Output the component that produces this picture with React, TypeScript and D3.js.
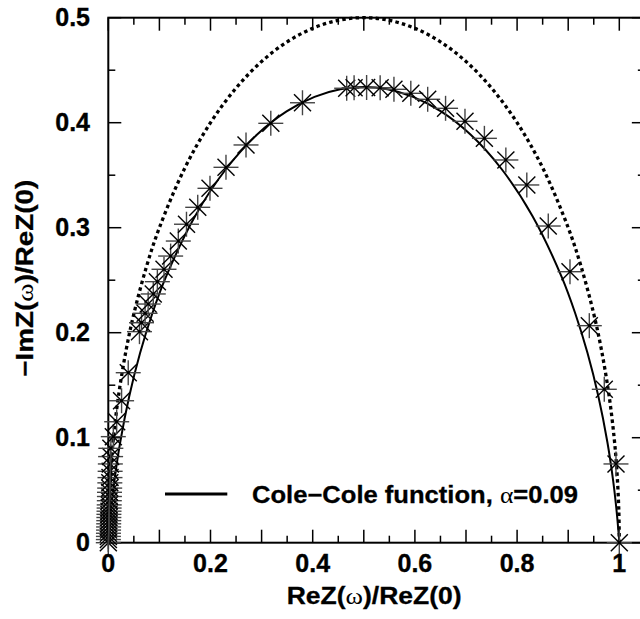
import React from "react";
import * as d3 from "d3";

const W = 640;
const H = 619;

// Ideal Debye semicircle (dotted curve): [ReZ, -ImZ]
const debyeX = [0, 0.001, 0.005, 0.01, 0.02, 0.035, 0.05, 0.075, 0.1, 0.15, 0.2, 0.25, 0.3, 0.35, 0.4, 0.45, 0.5, 0.55, 0.6, 0.65, 0.7, 0.75, 0.8, 0.85, 0.9, 0.925, 0.95, 0.965, 0.98, 0.99, 0.995, 0.999, 1];
const debyeY = [0, 0.0316, 0.0705, 0.0995, 0.14, 0.1838, 0.2179, 0.2634, 0.3, 0.3571, 0.4, 0.433, 0.4583, 0.477, 0.4899, 0.4975, 0.5, 0.4975, 0.4899, 0.477, 0.4583, 0.433, 0.4, 0.3571, 0.3, 0.2634, 0.2179, 0.1838, 0.14, 0.0995, 0.0705, 0.0316, 0];

// Cole-Cole fit (solid curve)
const coleX = [0, 0.0003, 0.0015, 0.0051, 0.0118, 0.0232, 0.041, 0.0622, 0.0863, 0.1126, 0.17, 0.2304, 0.2907, 0.3489, 0.4035, 0.454, 0.5, 0.546, 0.5965, 0.6511, 0.7093, 0.7696, 0.83, 0.8874, 0.9137, 0.9378, 0.959, 0.9768, 0.9882, 0.9949, 0.9985, 0.9997, 1];
const coleY = [0, 0.003, 0.0099, 0.0294, 0.0582, 0.0954, 0.1395, 0.1806, 0.2185, 0.2529, 0.3112, 0.3559, 0.3885, 0.4107, 0.4246, 0.4318, 0.4339, 0.4318, 0.4246, 0.4107, 0.3885, 0.3559, 0.3112, 0.2529, 0.2185, 0.1806, 0.1395, 0.0954, 0.0582, 0.0294, 0.0099, 0.003, 0];

// Measured data (asterisks)
const dataX = [0, 0.0001, 0.0002, 0.0003, 0.0005, 0.0006, 0.0008, 0.0009, 0.0011, 0.0012, 0.0014, 0.0016, 0.0018, 0.002, 0.0022, 0.0024, 0.0027, 0.003, 0.0033, 0.0036, 0.004, 0.0045, 0.005, 0.0098, 0.0164, 0.026, 0.039, 0.061, 0.065, 0.072, 0.078, 0.088, 0.096, 0.109, 0.122, 0.137, 0.153, 0.175, 0.199, 0.2303, 0.2695, 0.318, 0.38, 0.4665, 0.481, 0.5055, 0.532, 0.559, 0.592, 0.625, 0.66, 0.698, 0.736, 0.778, 0.819, 0.861, 0.9035, 0.9413, 0.9706, 0.9935, 1.0];
const dataY = [0, 0.003, 0.006, 0.009, 0.012, 0.015, 0.018, 0.021, 0.024, 0.027, 0.03, 0.033, 0.036, 0.04, 0.044, 0.048, 0.052, 0.057, 0.062, 0.068, 0.075, 0.082, 0.0899, 0.101, 0.1152, 0.1352, 0.1619, 0.201, 0.2095, 0.2185, 0.2273, 0.2369, 0.2486, 0.2604, 0.273, 0.2873, 0.3033, 0.3194, 0.3375, 0.3575, 0.3788, 0.3994, 0.419, 0.4328, 0.4333, 0.4335, 0.4333, 0.4318, 0.428, 0.4223, 0.4137, 0.4013, 0.3851, 0.3645, 0.3407, 0.3016, 0.2581, 0.2067, 0.1461, 0.075, 0.0];

const xTickLabels = ["0", "0.2", "0.4", "0.6", "0.8", "1"];
const xTickValues = [0, 0.2, 0.4, 0.6, 0.8, 1];
const yTickLabels = ["0", "0.1", "0.2", "0.3", "0.4", "0.5"];
const yTickValues = [0, 0.1, 0.2, 0.3, 0.4, 0.5];
const xMajorTicks = [0, 0.1, 0.2, 0.3, 0.4, 0.5, 0.6, 0.7, 0.8, 0.9, 1.0];
const xMinorTicks = [0.05, 0.15, 0.25, 0.35, 0.45, 0.55, 0.65, 0.75, 0.85, 0.95];
const yMajorTicks = [0, 0.1, 0.2, 0.3, 0.4, 0.5];
const yMinorTicks = [0.05, 0.15, 0.25, 0.35, 0.45];

const x = d3.scaleLinear().domain([0, 1]).range([108.3, 619.3]);
const y = d3.scaleLinear().domain([0, 0.5]).range([542.7, 17.7]);
const xMaxFrame = 1.05;

const FONT = "'Liberation Sans', Arial, Helvetica, sans-serif";
const SYM = "'Liberation Serif', 'DejaVu Serif', serif";

export default function App() {
  const line = d3
    .line<[number, number]>()
    .x((d) => x(d[0]))
    .y((d) => y(d[1]))
    .curve(d3.curveCatmullRom.alpha(0.5));

  const debye = debyeX.map((v, i) => [v, debyeY[i]] as [number, number]);
  const cole = coleX.map((v, i) => [v, coleY[i]] as [number, number]);

  const left = x(0);
  const right = x(xMaxFrame);
  const top = y(0.5);
  const bottom = y(0);
  const MAJ = 13;
  const MIN = 7;
  const ps = 12.5;
  const ds = 8.5;

  return (
    <svg width={W} height={H} style={{ position: "absolute", left: 0, top: 0, background: "#fff" }}>
      <rect x={0} y={0} width={W} height={H} fill="#fff" />
      {/* ticks */}
      <g stroke="#000" strokeWidth={1.5}>
        {xMajorTicks.map((t) => (
          <g key={"xm" + t}>
            <line x1={x(t)} x2={x(t)} y1={bottom} y2={bottom - MAJ} />
            <line x1={x(t)} x2={x(t)} y1={top} y2={top + MAJ} />
          </g>
        ))}
        {xMinorTicks.map((t) => (
          <g key={"xn" + t}>
            <line x1={x(t)} x2={x(t)} y1={bottom} y2={bottom - MIN} />
            <line x1={x(t)} x2={x(t)} y1={top} y2={top + MIN} />
          </g>
        ))}
        {yMajorTicks.map((t) => (
          <g key={"ym" + t}>
            <line x1={left} x2={left + MAJ} y1={y(t)} y2={y(t)} />
            <line x1={right} x2={right - MAJ} y1={y(t)} y2={y(t)} />
          </g>
        ))}
        {yMinorTicks.map((t) => (
          <g key={"yn" + t}>
            <line x1={left} x2={left + MIN} y1={y(t)} y2={y(t)} />
            <line x1={right} x2={right - MIN} y1={y(t)} y2={y(t)} />
          </g>
        ))}
      </g>
      {/* frame */}
      <rect x={left} y={top} width={right - left} height={bottom - top} fill="none" stroke="#000" strokeWidth={2} />

      {/* curves */}
      <path d={line(debye) || ""} fill="none" stroke="#000" strokeWidth={3.3} strokeDasharray="3.5,3.2" />
      <path d={line(cole) || ""} fill="none" stroke="#000" strokeWidth={2} />

      {/* data markers */}
      <g stroke="#000" strokeWidth={1.4}>
        {dataX.map((v, i) => {
          const cx = x(v);
          const cy = y(dataY[i]);
          return (
            <g key={"p" + i}>
              <line x1={cx - ps} x2={cx + ps} y1={cy} y2={cy} stroke="#444" />
              <line x1={cx} x2={cx} y1={cy - ps} y2={cy + ps} stroke="#444" />
              <line x1={cx - ds} x2={cx + ds} y1={cy - ds} y2={cy + ds} />
              <line x1={cx - ds} x2={cx + ds} y1={cy + ds} y2={cy - ds} />
              <circle cx={cx} cy={cy} r={1.4} fill="#000" stroke="none" />
            </g>
          );
        })}
      </g>

      {/* tick labels */}
      <g fontFamily={FONT} fontWeight="bold" fontSize={25} fill="#000" stroke="#000" strokeWidth={0.35}>
        {xTickValues.map((t, i) => (
          <text key={"xl" + i} x={x(t)} y={572} textAnchor="middle">
            {xTickLabels[i]}
          </text>
        ))}
        {yTickValues.map((t, i) => (
          <text key={"yl" + i} x={90} y={y(t)} dy="0.35em" textAnchor="end">
            {yTickLabels[i]}
          </text>
        ))}
      </g>

      {/* axis titles */}
      <g stroke="#000" strokeWidth={0.3}>
        <text x={286.7} y={604} fontFamily={FONT} fontWeight="bold" fontSize={23.5} textLength={175} lengthAdjust="spacingAndGlyphs">
          ReZ(<tspan fontFamily={SYM} fontWeight="normal" strokeWidth={0}>ω</tspan>)/ReZ(0)
        </text>
        <text
          transform="translate(33,376.7) rotate(-90)"
          x={0}
          y={0}
          fontFamily={FONT}
          fontWeight="bold"
          fontSize={23.5}
          textLength={197}
          lengthAdjust="spacingAndGlyphs"
        >
          −ImZ(<tspan fontFamily={SYM} fontWeight="normal" strokeWidth={0}>ω</tspan>)/ReZ(0)
        </text>

        {/* legend */}
        <line x1={165} x2={227.3} y1={494} y2={494} stroke="#000" strokeWidth={3} />
        <text x={252} y={503} fontFamily={FONT} fontWeight="bold" fontSize={24} textLength={326} lengthAdjust="spacingAndGlyphs">
          Cole−Cole function, <tspan fontFamily={SYM} fontWeight="normal" strokeWidth={0}>α</tspan>=0.09
        </text>
      </g>
    </svg>
  );
}
